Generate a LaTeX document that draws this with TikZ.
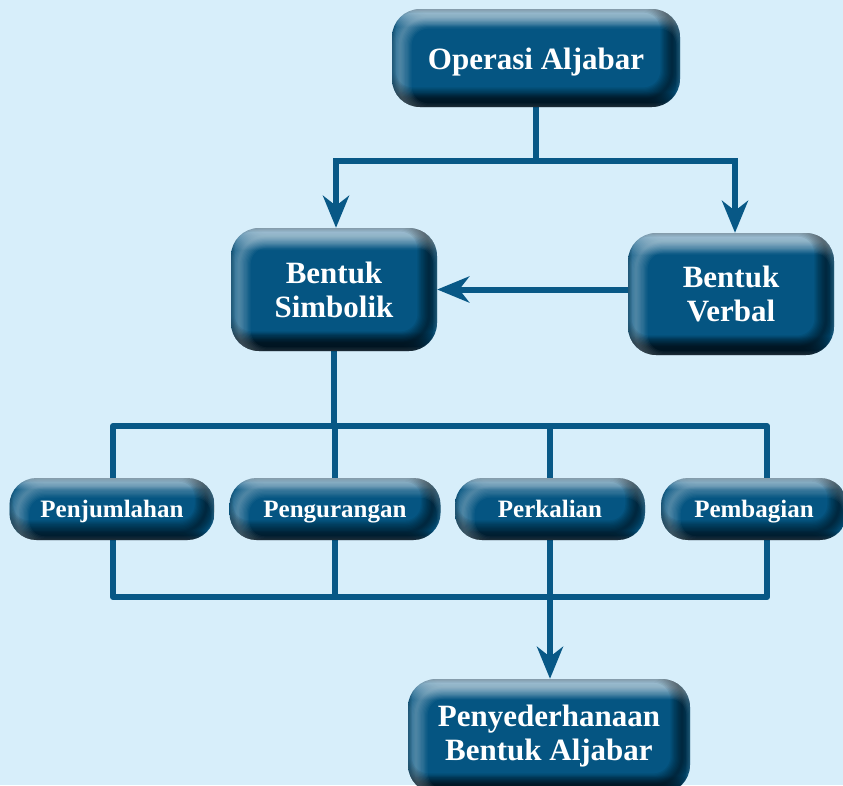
\documentclass[tikz,border=0pt]{standalone}
\usepackage{fontspec}
\setmainfont{Liberation Serif}
\usetikzlibrary{arrows.meta,backgrounds}
\definecolor{bg}{RGB}{215,238,250}
\definecolor{boxmain}{RGB}{5,85,130}
\definecolor{boxlight}{RGB}{150,185,206}
\definecolor{boxdark}{RGB}{0,22,36}
\definecolor{linec}{RGB}{8,88,134}
\pgfdeclareverticalshading{boxv}{100bp}{color(0bp)=(boxdark); color(25bp)=(boxdark); color(33bp)=(boxmain); color(66bp)=(boxmain); color(75bp)=(boxlight); color(100bp)=(boxlight)}
\tikzset{
  bevel/.style={path picture={
    \foreach \k [evaluate=\k as \w using \k*2.6] in {1,...,9}{
      \draw[black, draw opacity=0.07, line width=\w pt, rounded corners=#1]
        ([shift={(-8pt,8pt)}]path picture bounding box.south west) rectangle
        ([shift={(-8pt,8pt)}]path picture bounding box.north east);
      \draw[white, draw opacity=0.04, line width=\w pt, rounded corners=#1]
        ([shift={(8pt,-8pt)}]path picture bounding box.south west) rectangle
        ([shift={(8pt,-8pt)}]path picture bounding box.north east);
    }}},
  box/.style={rounded corners=28pt, shading=boxv, bevel=28pt, text=white, align=center, inner sep=0pt,
    font=\bfseries\fontsize{31}{34}\selectfont},
  sbox/.style={rounded corners=27pt, shading=boxv, bevel=27pt, text=white, align=center, inner sep=0pt,
    text height=19pt, text depth=3pt, font=\bfseries\fontsize{25}{28}\selectfont},
  conn/.style={draw=linec, line width=6pt, line cap=rect, line join=round},
  arr/.style={draw=linec, line width=6pt, -{Stealth[length=32pt,width=26pt,inset=10pt]}},
}
\begin{document}
\begin{tikzpicture}[x=1pt,y=-1pt]
\useasboundingbox (0,0) rectangle (843,785);
\node[box, minimum width=288pt, minimum height=98pt, text height=24pt, text depth=2pt] (op) at (536,58) {Operasi Aljabar};
\node[box, minimum width=206pt, minimum height=123pt] (simb) at (334,289.5) {Bentuk\\Simbolik};
\node[box, minimum width=206pt, minimum height=122pt] (verb) at (731,294) {Bentuk\\Verbal};
\node[sbox, minimum width=205pt, minimum height=62pt] (penj) at (112,509) {Penjumlahan};
\node[sbox, minimum width=211pt, minimum height=62pt] (peng) at (335,509) {Pengurangan};
\node[sbox, minimum width=190pt, minimum height=62pt] (perk) at (550,509) {Perkalian};
\node[sbox, minimum width=186pt, minimum height=62pt] (pemb) at (754,509) {Pembagian};
\node[box, minimum width=282pt, minimum height=114pt] (peny) at (549,736) {Penyederhanaan\\Bentuk Aljabar};
\coordinate (jt) at (536,161);
\coordinate (tl) at (336,161);
\coordinate (tr) at (735,161);
\coordinate (bl) at (113,426);
\coordinate (br) at (767,426);
\coordinate (ml) at (113,597);
\coordinate (mr) at (767,597);
\coordinate (mj) at (550,597);
\begin{scope}[on background layer]
\fill[bg] (0,0) rectangle (843,785);
\draw[conn] (op.south) -- (jt);
\draw[conn] (tl) -- (tr);
\draw[arr] (tl) -- (tl |- simb.north);
\draw[arr] (tr) -- (tr |- verb.north);
\draw[arr] (verb.west |- simb.east) -- (simb.east);
\draw[conn] (simb.south) -- (simb.south |- bl);
\draw[conn] (bl) rectangle (mr);
\draw[conn] (peng.north |- bl) -- (peng.south |- ml);
\draw[conn] (perk.north |- bl) -- (perk.south |- ml);
\draw[arr] (mj) -- (mj |- peny.north);
\end{scope}
\end{tikzpicture}
\end{document}
